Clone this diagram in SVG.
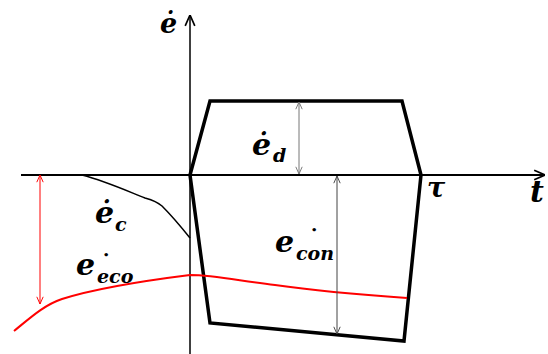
<svg xmlns="http://www.w3.org/2000/svg" width="548" height="354" viewBox="0 0 548 354">
<defs>
<marker id="ah" viewBox="0 0 10 10" refX="10" refY="5" markerWidth="8" markerHeight="8" markerUnits="userSpaceOnUse" orient="auto-start-reverse">
<path d="M1,1 L10,5 L1,9" fill="none" stroke="context-stroke" stroke-width="1.2"/>
</marker>
<marker id="axh" viewBox="0 0 10 10" refX="10" refY="5" markerWidth="12" markerHeight="12" markerUnits="userSpaceOnUse" orient="auto">
<path d="M1,1 L10,5 L1,9" fill="none" stroke="#000" stroke-width="1.4"/>
</marker>
</defs>
<style>
.lbl{font-family:"DejaVu Serif","Liberation Serif",serif;font-weight:bold;font-style:italic;fill:#000}
.big{font-size:30px}
.sub{font-size:19px}
.dot{font-size:10px;font-style:normal}
.dim{fill:none;stroke-width:1}
</style>
<rect width="548" height="354" fill="#fff"/>
<g id="axes">
<line x1="21" y1="175" x2="545" y2="175" stroke="#000" stroke-width="2" marker-end="url(#axh)"/>
<line x1="190" y1="354" x2="190" y2="15" stroke="#000" stroke-width="1.5" marker-end="url(#axh)"/>
</g>
<g id="trapezoid">
<path d="M190,175 L210,101 L402,101 L421,175 L404,341 L210,323 Z" fill="none" stroke="#000" stroke-width="3.5" stroke-linejoin="miter"/>
</g>
<g id="curve-ec">
<path d="M82,175 C105,181 125,190 145,198 C152,200 156,201 162,206 C172,216 182,228 190,238" fill="none" stroke="#000" stroke-width="1.5"/>
</g>
<g id="curve-eco">
<path d="M14,331 C30,318 44,305 62,299 C100,287 150,280 190,275 C215,275 240,281 275,285 C310,290 350,294 407,298" fill="none" stroke="#f00" stroke-width="2"/>
</g>
<g id="connectors">
<line class="dim" x1="40" y1="175" x2="40" y2="304" stroke="#f00" marker-start="url(#ah)" marker-end="url(#ah)"/>
<line class="dim" x1="299" y1="102" x2="299" y2="174" stroke="#777" marker-start="url(#ah)" marker-end="url(#ah)"/>
<line class="dim" x1="337" y1="176" x2="337" y2="334" stroke="#444" marker-start="url(#ah)" marker-end="url(#ah)"/>
</g>
<g id="labels">
<text class="lbl" font-size="27" x="160" y="33">ė</text>
<text id="label-ed" class="lbl big" x="252" y="155">ė<tspan class="sub" x="273" y="162">d</tspan></text>
<text id="label-ec" class="lbl big" x="95" y="223">ė<tspan class="sub" x="115" y="231">c</tspan></text>
<text id="label-eco" class="lbl big" x="76" y="275">e<tspan class="dot" x="103" y="258">•</tspan><tspan class="sub" x="97" y="283">eco</tspan></text>
<text id="label-econ" class="lbl big" x="275" y="252">e<tspan class="dot" x="311" y="233">•</tspan><tspan class="sub" x="296" y="260">con</tspan></text>
<text class="lbl" font-size="27" x="427" y="197">τ</text>
<text class="lbl" font-size="30" x="530" y="202">t</text>
</g>
</svg>
